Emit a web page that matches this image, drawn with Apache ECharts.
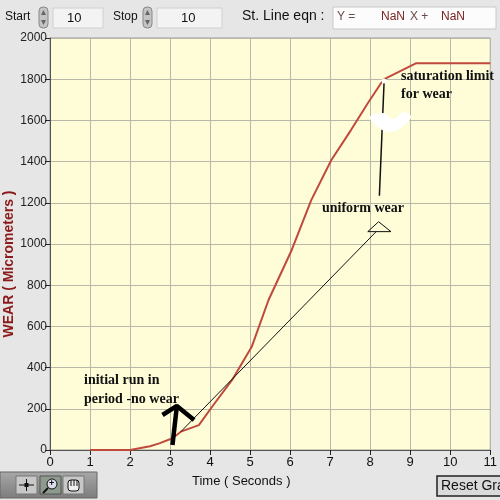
<!DOCTYPE html>
<html><head><meta charset="utf-8">
<script src="https://cdn.jsdelivr.net/npm/echarts@6/dist/echarts.min.js"></script>
<style>html,body{margin:0;padding:0;background:#e6e6e6;}#c{width:500px;height:500px;}</style>
</head><body><div id="c"></div>
<script>
// Main wear curve (Time in seconds, Wear in micrometers)
const timeVals = [1, 2, 2.5, 2.73, 3.06, 3.27, 3.72, 4.05, 4.55, 5.04, 5.46, 6.04, 6.53, 7.03, 7.52, 7.94, 8.27, 8.35, 9.14, 11];
const wearVals = [0, 0, 18, 32, 57, 89, 121, 210, 340, 501, 728, 971, 1214, 1408, 1553, 1683, 1780, 1800, 1877, 1877];
// Axis ticks
const xTicks = [0,1,2,3,4,5,6,7,8,9,10,11];
const yTicks = [0,200,400,600,800,1000,1200,1400,1600,1800,2000];
// Annotation geometry (data space)
const tangentX = [3.27, 8.15];
const tangentY = [89, 1060];
const triX = [7.94, 8.21, 8.52, 7.94];
const triY = [1060, 1108, 1060, 1060];
const pointerX = [8.23, 8.35];
const pointerY = [1234, 1800];
const arrowShaftX = [3.06, 3.17];
const arrowShaftY = [24, 214];
const arrowHeadX = [2.81, 3.17, 3.60];
const arrowHeadY = [170, 214, 146];

const zip = (a,b)=>a.map((v,i)=>[v,b[i]]);
const chart = echarts.init(document.getElementById('c'));
const UI = '"Liberation Sans", "DejaVu Sans", sans-serif';
const SERIF = '"Liberation Serif", "DejaVu Serif", serif';

function annot(name, xs, ys, color, w){
  return {name, type:'line', data:zip(xs,ys), symbol:'none', silent:true,
    lineStyle:{color, width:w}, z:5, animation:false};
}

chart.setOption({
  backgroundColor:'#e6e6e6',
  animation:false,
  grid:{left:50, right:7, top:38, bottom:50, show:true, backgroundColor:'#fefdd8', borderColor:'#9a9a9a', borderWidth:1},
  xAxis:{type:'value', min:xTicks[0], max:xTicks[xTicks.length-1], interval:1,
    axisLine:{show:true, onZero:false, lineStyle:{color:'#555', width:1}},
    axisTick:{show:true, inside:false, length:5, lineStyle:{color:'#222'}},
    axisLabel:{color:'#111', fontSize:13, fontFamily:UI, margin:6, formatter:v=>String(v)},
    splitLine:{show:true, lineStyle:{color:'#b8b8aa', width:1}}},
  yAxis:{type:'value', min:yTicks[0], max:yTicks[yTicks.length-1], interval:200,
    axisLine:{show:true, onZero:false, lineStyle:{color:'#555', width:1}},
    axisTick:{show:true, inside:false, length:5, lineStyle:{color:'#222'}},
    axisLabel:{color:'#222', fontSize:12, fontFamily:UI, margin:3, formatter:v=>String(v)},
    splitLine:{show:true, lineStyle:{color:'#b8b8aa', width:1}}},
  series:[
    {name:'Wear', type:'line', data:zip(timeVals, wearVals), symbol:'none',
     lineStyle:{color:'#bf4a3c', width:2}, z:3},
    annot('tangent', tangentX, tangentY, '#111', 1),
    annot('triangle', triX, triY, '#111', 1),
    annot('pointer', pointerX, pointerY, '#111', 1.5),
    annot('arrowShaft', arrowShaftX, arrowShaftY, '#000', 4.5),
    annot('arrowHead', arrowHeadX, arrowHeadY, '#000', 4.5)
  ],
  graphic:[
    // top controls
    {type:'text', left:5, top:11, style:{text:'Start', font:'12px '+UI, fill:'#111'}},
    {type:'rect', shape:{x:39,y:7,width:9,height:21,r:4}, style:{fill:'#c4c4c4', stroke:'#888'}},
    {type:'polygon', shape:{points:[[41,15],[43.5,10],[46,15]]}, style:{fill:'#666'}},
    {type:'polygon', shape:{points:[[41,20],[43.5,25],[46,20]]}, style:{fill:'#666'}},
    {type:'rect', shape:{x:53,y:8,width:50,height:20}, style:{fill:'#f3f3f3', stroke:'#d0d0d0'}},
    {type:'text', left:67, top:12, style:{text:'10', font:'13px '+UI, fill:'#111'}},
    {type:'text', left:113, top:11, style:{text:'Stop', font:'12px '+UI, fill:'#111'}},
    {type:'rect', shape:{x:143,y:7,width:9,height:21,r:4}, style:{fill:'#c4c4c4', stroke:'#888'}},
    {type:'polygon', shape:{points:[[145,15],[147.5,10],[150,15]]}, style:{fill:'#666'}},
    {type:'polygon', shape:{points:[[145,20],[147.5,25],[150,20]]}, style:{fill:'#666'}},
    {type:'rect', shape:{x:157,y:8,width:65,height:20}, style:{fill:'#f3f3f3', stroke:'#d0d0d0'}},
    {type:'text', left:181, top:12, style:{text:'10', font:'13px '+UI, fill:'#111'}},
    {type:'text', left:242, top:9, style:{text:'St. Line eqn :', font:'14px '+UI, fill:'#111'}},
    {type:'rect', shape:{x:333,y:7,width:163,height:22}, style:{fill:'#fcfcfc', stroke:'#c8c8c8'}},
    {type:'text', left:337, top:11, style:{text:'Y =', font:'12px '+UI, fill:'#6a4a4a'}},
    {type:'text', left:381, top:11, style:{text:'NaN', font:'12px '+UI, fill:'#7a2222'}},
    {type:'text', left:410, top:11, style:{text:'X +', font:'12px '+UI, fill:'#6a4a4a'}},
    {type:'text', left:441, top:11, style:{text:'NaN', font:'12px '+UI, fill:'#7a2222'}},
    // y axis title
    {type:'text', x:2, y:264, rotation:Math.PI/2, style:{text:'WEAR ( Micrometers )', font:'bold 14px '+UI, fill:'#8b1a1a', textAlign:'center', textVerticalAlign:'top'}},
    // x axis title
    {type:'text', left:192, top:475, style:{text:'Time ( Seconds )', font:'13px '+UI, fill:'#111'}},
    // bottom toolbar
    {type:'rect', shape:{x:0,y:472,width:97,height:26}, style:{fill:new echarts.graphic.LinearGradient(0,0,0,1,[{offset:0,color:'#a8a8a8'},{offset:1,color:'#7c7c7c'}]), stroke:'#666'}},
    {type:'rect', shape:{x:16,y:476,width:21,height:18}, style:{fill:'#c8c8c8', stroke:'#777'}},
    {type:'rect', shape:{x:40,y:476,width:21,height:18}, style:{fill:'#8e9a8e', stroke:'#555'}},
    {type:'rect', shape:{x:63,y:476,width:21,height:18}, style:{fill:'#c8c8c8', stroke:'#777'}},
    {type:'line', shape:{x1:19,y1:485,x2:34,y2:485}, style:{stroke:'#111', lineWidth:1}},
    {type:'line', shape:{x1:26.5,y1:479,x2:26.5,y2:491}, style:{stroke:'#111', lineWidth:1}},
    {type:'rect', shape:{x:24.5,y:483,width:4,height:4}, style:{fill:'#111'}},
    {type:'circle', shape:{cx:52,cy:484,r:5}, style:{fill:'#dde', stroke:'#111', lineWidth:1}},
    {type:'line', shape:{x1:48,y1:488,x2:43,y2:493}, style:{stroke:'#111', lineWidth:2}},
    {type:'text', left:49, top:479, style:{text:'+', font:'bold 9px '+UI, fill:'#111'}},
    {type:'rect', shape:{x:68,y:480,width:11,height:11,r:3}, style:{fill:'#eee', stroke:'#111', lineWidth:1}},
    {type:'line', shape:{x1:71,y1:480,x2:71,y2:486}, style:{stroke:'#111'}},
    {type:'line', shape:{x1:74,y1:480,x2:74,y2:486}, style:{stroke:'#111'}},
    {type:'line', shape:{x1:77,y1:480,x2:77,y2:486}, style:{stroke:'#111'}},
    // reset button
    {type:'rect', shape:{x:437,y:476,width:70,height:20}, style:{fill:'#dadada', stroke:'#222', lineWidth:1.5}},
    {type:'text', left:441, top:479, style:{text:'Reset Graph', font:'14px '+UI, fill:'#111'}},
    // white blob near saturation pointer
    {type:'polygon', z:10, shape:{points:[[370,117],[383,113],[393,119],[404,112],[411,117],[402,127],[391,132],[379,128]], smooth:0.4}, style:{fill:'#ffffff'}},
    {type:'circle', z:10, shape:{cx:384,cy:81,r:2.5}, style:{fill:'#ffffff'}},
    // annotation texts
    {type:'text', z:20, left:401, top:69, style:{text:'saturation limit', font:'bold 14px '+SERIF, fill:'#111'}},
    {type:'text', z:20, left:401, top:87, style:{text:'for wear', font:'bold 14px '+SERIF, fill:'#111'}},
    {type:'text', z:20, left:322, top:201, style:{text:'uniform wear', font:'bold 14px '+SERIF, fill:'#111'}},
    {type:'text', z:20, left:84, top:373, style:{text:'initial run in', font:'bold 14px '+SERIF, fill:'#111'}},
    {type:'text', z:20, left:84, top:392, style:{text:'period -no wear', font:'bold 14px '+SERIF, fill:'#111'}}
  ]
});
</script></body></html>
